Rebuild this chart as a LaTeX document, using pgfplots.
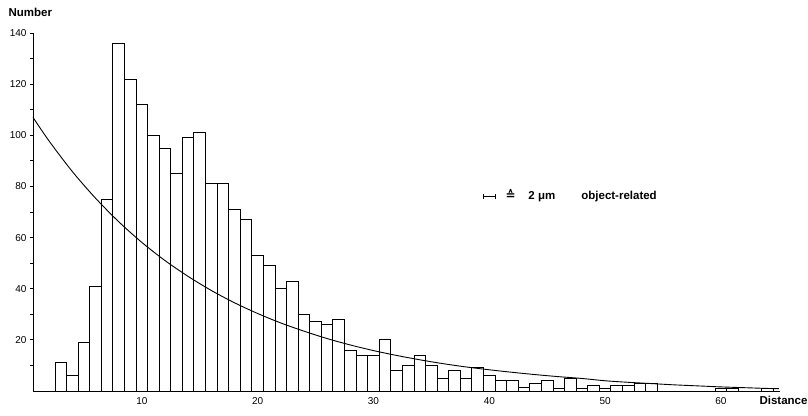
\documentclass[border=0pt]{standalone}
\usepackage{pgfplots}
\pgfplotsset{compat=1.18}
\usepackage{fontspec}
\setmainfont{Liberation Sans}
\newfontfamily\dejavu{DejaVu Sans}
\begin{document}
\begin{tikzpicture}
\begin{axis}[
  name=ax,
  scale only axis,
  width=747pt, height=358pt,
  xmin=0.6, xmax=65.1, ymin=0, ymax=140,
  axis lines=left,
  axis line style={-, line width=0.9pt},
  xtick={10,20,...,60},
  ytick={20,40,...,140},
  minor ytick={10,30,...,130},
  xtick style={draw=none},
  ytick style={line width=0.8pt, black},
  tick align=outside,
  major tick length=3pt, minor tick length=3pt,
  tick label style={font=\fontsize{10}{11}\selectfont},
  /pgf/number format/assume math mode=true,
  clip=false,
  ylabel={\bfseries Number},
  every axis y label/.style={at={(rel axis cs:0,1)}, anchor=base west, xshift=-28pt, yshift=16.5pt, font=\fontsize{11.5}{12}\selectfont},
  xlabel={\bfseries Distance},
  every axis x label/.style={at={(rel axis cs:1,0)}, anchor=base west, xshift=-24pt, yshift=-13pt, font=\fontsize{11.5}{12}\selectfont},
]
\addplot[ybar, bar width=1, bar shift=0pt, fill=white, draw=black, line width=1pt] coordinates {
(3,11) (4,6) (5,19) (6,41) (7,75) (8,136) (9,122) (10,112) (11,100) (12,95)
(13,85) (14,99) (15,101) (16,81) (17,81) (18,71) (19,67) (20,53) (21,49) (22,40)
(23,43) (24,30) (25,27) (26,26) (27,28) (28,16) (29,14) (30,14) (31,20) (32,8)
(33,10) (34,14) (35,10) (36,5) (37,8) (38,5) (39,9) (40,6) (41,4) (42,4)
(43,1.5) (44,3) (45,4) (46,1) (47,5) (48,1) (49,2) (50,1) (51,2) (52,2)
(53,3) (54,3) (60,1) (61,1) (64,1)
};
\addplot[smooth, no marks, line width=0.9pt] coordinates {
(0.6,107.0) (2,97.7) (4,85.8) (6,75.4) (8,66.2) (10,58.1) (12,51.0) (14,44.8)
(16,39.3) (18,34.5) (20,30.3) (22,26.6) (24,23.4) (26,20.5) (28,18.0) (30,15.8)
(32,13.9) (34,12.2) (36,10.7) (38,9.4) (40,8.3) (42,7.3) (44,6.4) (46,5.6)
(48,4.9) (50,4.0) (52,3.4) (54,2.9) (56,2.4) (58,2.0) (60,1.6) (62,1.3) (64,1.0) (65,0.9)
};
\node[anchor=base west, inner sep=0pt] at (axis cs:39.47,74.9) {\rule{0.8pt}{5pt}\rule[2.2pt]{11pt}{0.8pt}\rule{0.8pt}{5pt}};
\node[anchor=base west, inner sep=0pt, font=\fontsize{12}{12}\selectfont\dejavu\bfseries] at (axis cs:41.4,74.9) {≙};
\node[anchor=base west, inner sep=0pt, font=\fontsize{11.5}{12}\selectfont\bfseries] at (axis cs:43.36,74.9) {2 μm};
\node[anchor=base west, inner sep=0pt, font=\fontsize{11.5}{12}\selectfont\bfseries] at (axis cs:47.93,74.9) {object-related};
\end{axis}
\pgfresetboundingbox
\path ([shift={(-33pt,-24pt)}]ax.south west) rectangle ([shift={(28pt,33pt)}]ax.north east);
\end{tikzpicture}
\end{document}
